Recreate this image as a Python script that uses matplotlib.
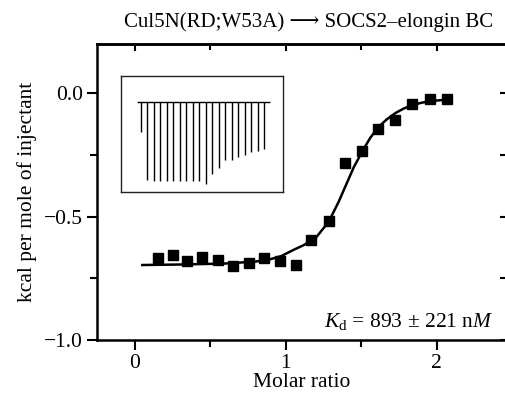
import matplotlib
matplotlib.use("Agg")
import matplotlib.pyplot as plt
from matplotlib.ticker import MultipleLocator

plt.rcParams['font.family'] = ['Liberation Serif', 'DejaVu Serif']
plt.rcParams['mathtext.fontset'] = 'custom'
plt.rcParams['mathtext.rm'] = 'Liberation Serif'
plt.rcParams['mathtext.it'] = 'Liberation Serif:italic'

# integrated heats (molar ratio, kcal per mole of injectant)
ratio = [0.154, 0.25, 0.349, 0.448, 0.548, 0.651, 0.755, 0.856, 0.96, 1.07,
         1.17, 1.285, 1.395, 1.508, 1.611, 1.726, 1.836, 1.954, 2.068]
heat = [-0.667, -0.657, -0.680, -0.663, -0.677, -0.698, -0.687, -0.667, -0.680, -0.694,
        -0.593, -0.519, -0.283, -0.234, -0.146, -0.109, -0.044, -0.021, -0.024]

# fitted binding curve
fitRatio = [0.05, 0.3, 0.6, 0.8, 0.9, 0.97, 1.05, 1.12, 1.2, 1.285, 1.35, 1.4,
            1.45, 1.508, 1.56, 1.611, 1.67, 1.726, 1.78, 1.836, 1.9, 1.954, 2.02, 2.086]
fitHeat = [-0.696, -0.694, -0.69, -0.682, -0.672, -0.66, -0.635, -0.615, -0.585, -0.52, -0.44, -0.37,
           -0.30, -0.234, -0.18, -0.138, -0.105, -0.08, -0.062, -0.048, -0.038, -0.032, -0.028, -0.026]

# raw thermogram peaks in the inset (injection number, peak depth)
injection = list(range(1, 21))
peakDepth = [-0.30, -0.78, -0.79, -0.79, -0.79, -0.79, -0.79, -0.79, -0.79, -0.79,
             -0.82, -0.72, -0.66, -0.58, -0.58, -0.55, -0.53, -0.50, -0.49, -0.47]

fig = plt.figure(figsize=(5.06, 3.95), dpi=100)
W, H = 506.0, 395.0
ax = fig.add_axes([97/W, 1-340/H, 410/W, 296/H])

ax.plot(fitRatio, fitHeat, "k-", lw=1.8)
ax.plot(ratio, heat, "ks", ms=6.5)

ax.set_xlim(-0.25, 2.465)
ax.set_ylim(-1.0, 0.2)
ax.xaxis.set_major_locator(MultipleLocator(1))
ax.xaxis.set_minor_locator(MultipleLocator(0.5))
ax.set_yticks([-1.0, -0.5, 0.0])
ax.set_yticklabels(["\u22121.0", "\u22120.5", "0.0"])
ax.yaxis.set_minor_locator(MultipleLocator(0.25))
ax.tick_params(axis='both', which='both', direction='out', width=1.5, labelsize=15.5, pad=3)
ax.tick_params(axis='both', which='major', length=7)
ax.tick_params(axis='both', which='minor', length=5)
for sp in ax.spines.values():
    sp.set_linewidth(1.8)

# top / right ticks point inward
ax2 = ax.secondary_xaxis('top')
ax2.xaxis.set_major_locator(MultipleLocator(1))
ax2.xaxis.set_minor_locator(MultipleLocator(0.5))
ax2.tick_params(which='both', direction='in', width=1.5, labeltop=False)
ax2.tick_params(which='major', length=5)
ax2.tick_params(which='minor', length=4)
ax2.spines['top'].set_linewidth(1.8)
ax3 = ax.secondary_yaxis('right')
ax3.set_yticks([-1.0, -0.5, 0.0])
ax3.yaxis.set_minor_locator(MultipleLocator(0.25))
ax3.tick_params(which='both', direction='in', width=1.5, length=5, labelright=False)

ax.set_xlabel("Molar ratio", fontsize=15.5, labelpad=0)
ax.set_ylabel("kcal per mole of injectant", fontsize=15.5, labelpad=5)

fig.text(309/W, 1-22/H, "Cul5N(RD;W53A) \u27f6 SOCS2\u2013elongin BC", fontsize=15,
         ha='center', va='center')
ax.text(0.966, 0.045, r"$K_{\rm d}$ = 893 " + "\u00b1" + r" 221 n$M$",
        transform=ax.transAxes, ha='right', va='baseline', fontsize=15.5)

# inset thermogram
ins = fig.add_axes([121/W, 1-192/H, 162/W, 116/H])
ins.hlines(0, 0.43, 20.9, color='k', lw=1.0)
ins.vlines(injection, peakDepth, 0, color='k', lw=1.0)
ins.set_xlim(-2.03, 22.9)
ins.set_ylim(-0.90, 0.26)
ins.set_xticks([])
ins.set_yticks([])
for sp in ins.spines.values():
    sp.set_linewidth(1.0)
    sp.set_color('#222222')

fig.savefig("out.png", dpi=100)
